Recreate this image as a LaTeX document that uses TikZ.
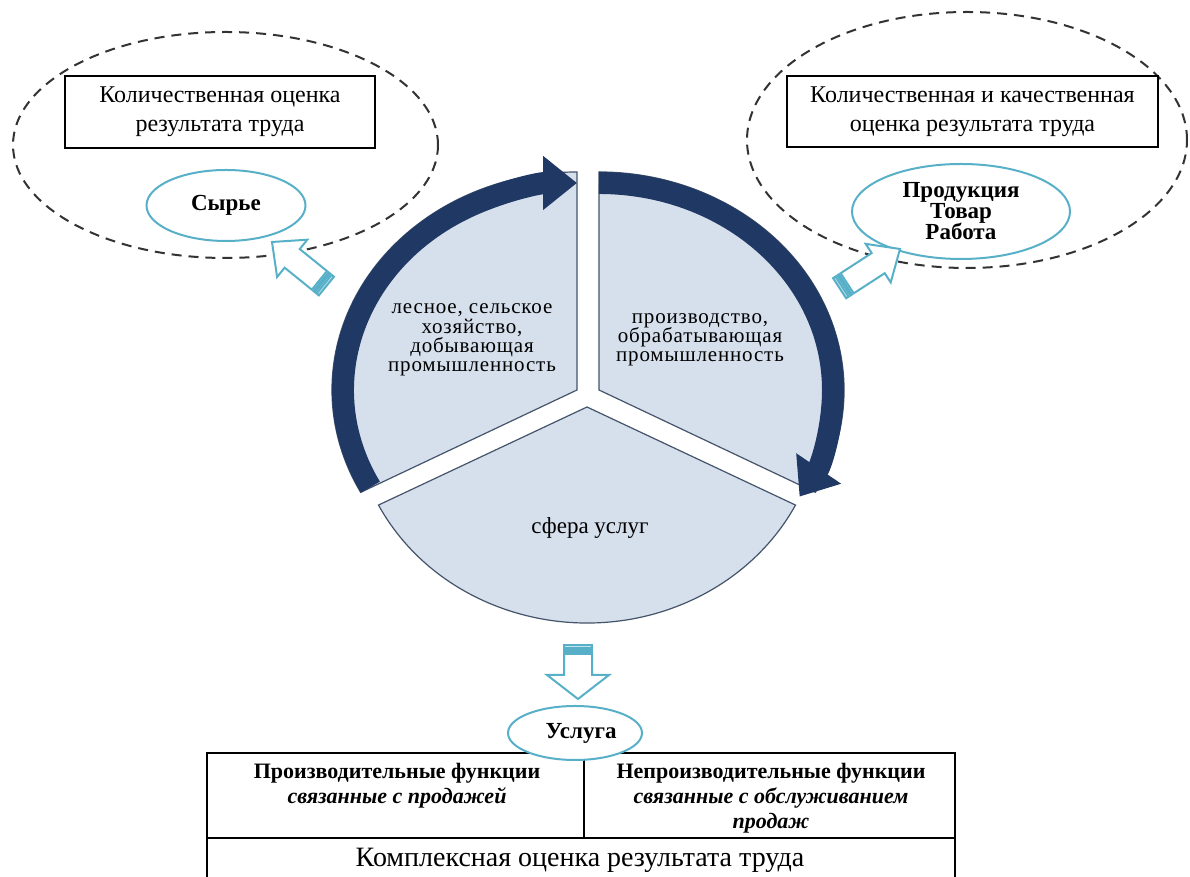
\documentclass[tikz,border=0pt]{standalone}
\usepackage{fontspec}
\setmainfont{Liberation Serif}
\usetikzlibrary{positioning, arrows.meta, shapes.geometric, calc}

\definecolor{navy}{RGB}{32,56,100}
\definecolor{segfill}{RGB}{214,223,236}
\definecolor{segline}{RGB}{68,84,106}
\definecolor{aqua}{RGB}{88,176,200}
\definecolor{stripefill}{RGB}{190,228,238}

\newcommand{\tightskip}{\lineskiplimit=-5pt\relax}
\newcommand{\widetext}{\addfontfeature{LetterSpace=4}}

\tikzset{
    pics/hollowarrow/.style n args={4}{code={
        % #1 length, #2 head length, #3 head half width, #4 shaft half width
        \draw[aqua, line width=1pt, fill=white, line join=miter] (0,0) -- (-#2,#3) -- (-#2,#4) -- (-#1+9,#4) -- (-#1+9,-#4) -- (-#2,-#4) -- (-#2,-#3) -- cycle;
        \draw[aqua, line width=1pt, fill=stripefill] (-#1,#4) rectangle (-#1+3,-#4);
        \draw[aqua, line width=1pt, fill=stripefill] (-#1+5,#4) rectangle (-#1+7,-#4);
    }}
}

\begin{document}
\begin{tikzpicture}[x=0.5pt, y=0.5pt,
        block/.style={draw, rectangle, line width=1pt, align=center, font=\fontsize{12}{14.5}\selectfont},
        oval/.style={draw=aqua, ellipse, line width=1pt, fill=white, align=center, inner sep=1pt, font=\bfseries\fontsize{11.5}{10.5}\selectfont\tightskip},
        dashoval/.style={draw=black!80, ellipse, dash pattern=on 5pt off 3.5pt, line width=1pt},
        sector/.style={fill=segfill, draw=segline, line width=0.6pt},
        band/.style={navy, line width=11pt, -{Triangle[length=17pt, width=26pt]}},
        sectortext/.style={align=center, font=\fontsize{10.5}{9.6}\selectfont\widetext\tightskip},
        cell/.style={align=center, anchor=north, inner sep=0pt, font=\bfseries\fontsize{11}{12.5}\selectfont},
        ]
        \useasboundingbox (0,0) rectangle (1190,877);
        \fill[white] (0,0) rectangle (1190,877);

        % Зоны оценки
        \node (zoneL) [dashoval, minimum width=212.5pt, minimum height=113pt] at (225.5,732) {};
        \node (zoneR) [dashoval, minimum width=220pt, minimum height=128pt] at (967,737) {};

        \node (evalL) [block, minimum width=155pt, minimum height=36pt] at (220,765) {Количественная оценка\\результата труда};
        \node (evalR) [block, minimum width=185.5pt, minimum height=35.5pt] at (972.5,765.5) {Количественная и качественная\\оценка результата труда};

        \node (raw) [oval, minimum width=79.5pt, minimum height=35.5pt, below=10pt of evalL, xshift=3pt] {Сырье};
        \node (goods) [oval, minimum width=109pt, minimum height=47.5pt, below=7.5pt of evalR, xshift=-5.75pt] {Продукция\\Товар\\Работа};

        % Секторы
        \coordinate (Lc) at (577,487);
        \coordinate (Rc) at (599,487);
        \coordinate (Bc) at (587,470);
        \draw[sector] (Lc) -- ++(0,218) arc[start angle=90, end angle=208, x radius=245, y radius=218] -- cycle;
        \draw[sector] (Rc) -- ++(-28:245 and 218) arc[start angle=-28, end angle=90, x radius=245, y radius=218] -- cycle;
        \draw[sector] (Bc) -- ++(207:234 and 216) arc[start angle=207, end angle=333, x radius=234, y radius=216] -- cycle;

        % Круговые стрелки
        \draw[band] ($(Lc)+(208:234 and 207)$) arc[start angle=208, end angle=90, x radius=234, y radius=207];
        \draw[band] ($(Rc)+(90:234 and 207)$) arc[start angle=90, end angle=-31, x radius=234, y radius=207];

        \node (agri) [sectortext] at (472,537) {лесное, сельское\\хозяйство,\\добывающая\\промышленность};
        \node (manuf) [sectortext] at (700,537) {производство,\\обрабатывающая\\промышленность};
        \node (serv) [sectortext, font=\fontsize{11.5}{12}\selectfont] at (590,349) {сфера услуг};

        % Полые стрелки
        \pic[rotate=141] (arrL) at (272,635) {hollowarrow={70}{26}{24}{12}};
        \pic[rotate=33] (arrR) at (900,628) {hollowarrow={72}{26}{23}{12}};
        \pic[rotate=-90] (arrB) at (578,178) {hollowarrow={54}{24}{31}{14}};

        % Таблица
        \draw[line width=0.8pt] (207,0) -- (207,124) -- (955,124) -- (955,0);
        \draw[line width=0.8pt] (207,39) -- (955,39);
        \draw[line width=0.8pt] (584,124) -- (584,39);

        \node (usluga) [oval, minimum width=67pt, minimum height=27pt] at (575,144) {\hspace*{6pt}Услуга};

        \node (prodF) [cell] at (397,114) {Производительные функции\\\textit{связанные с продажей}};
        \node (nonprodF) [cell] at (771,114) {Непроизводительные функции\\\textit{связанные с обслуживанием}\\\textit{продаж}};
        \node (total) [font=\fontsize{14}{16}\selectfont] at (580,17) {Комплексная оценка результата труда};

    \end{tikzpicture}
\end{document}
